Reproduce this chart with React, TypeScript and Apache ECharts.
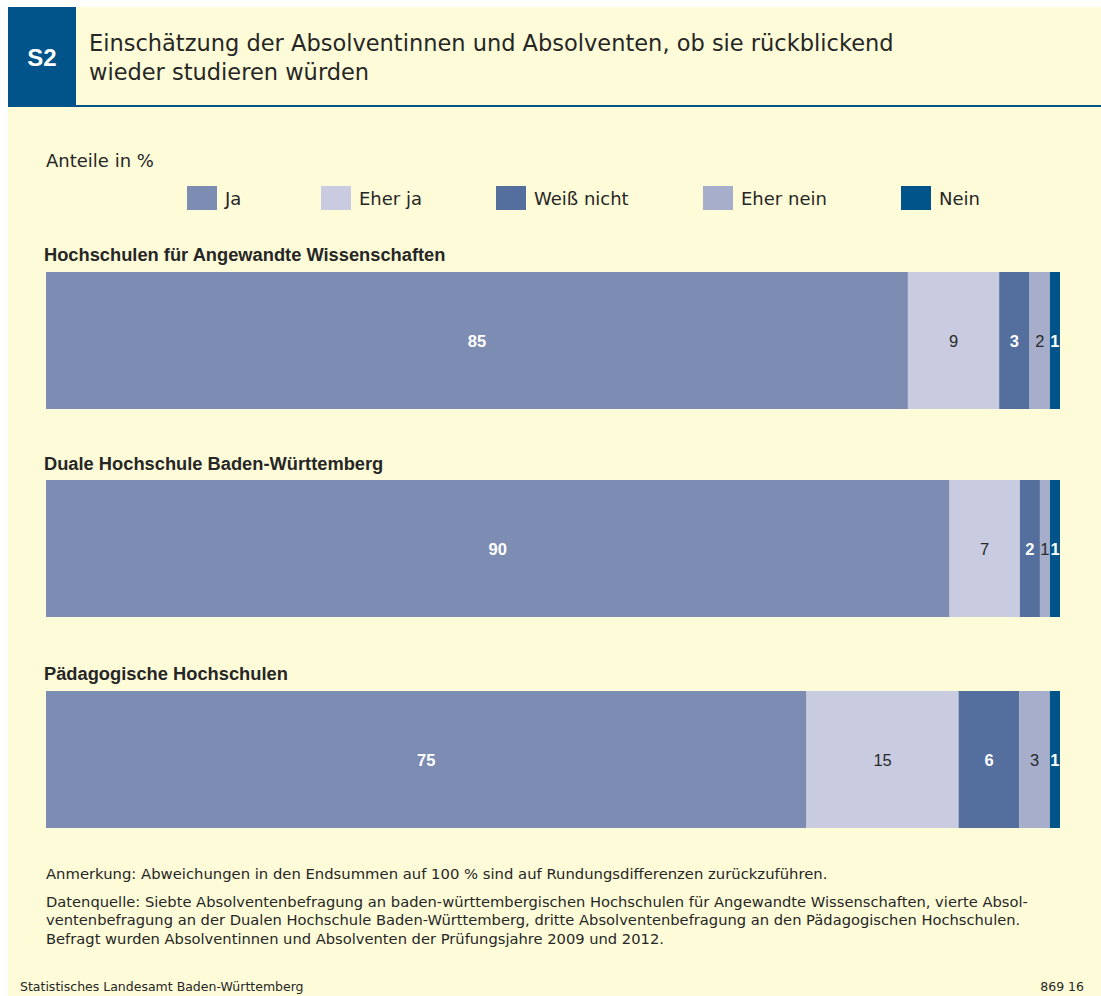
import React, { useEffect, useRef } from "react";
import * as echarts from "echarts";

const categories = ["Ja", "Eher ja", "Weiß nicht", "Eher nein", "Nein"];
const colors = ["#7d8cb3", "#c9cce0", "#546f9e", "#a6aecb", "#00548a"];
const labelColors = ["#ffffff", "#2a2a2a", "#ffffff", "#2a2a2a", "#ffffff"];
const labelWeights = ["bold", "normal", "bold", "normal", "bold"];
const legendLefts = [187, 321, 496, 703, 901];

const groups = [
  "Hochschulen für Angewandte Wissenschaften",
  "Duale Hochschule Baden-Württemberg",
  "Pädagogische Hochschulen",
];
const valuesHAW = [85, 9, 3, 2, 1];
const valuesDHBW = [90, 7, 2, 1, 1];
const valuesPH = [75, 15, 6, 3, 1];
const rows = [valuesHAW, valuesDHBW, valuesPH];

const FONT = "'Liberation Sans', Arial, Helvetica, sans-serif";
const WIDE = "'DejaVu Sans', 'Liberation Sans', sans-serif";
const TEXT = "#262626";

export default function App() {
  const ref = useRef<HTMLDivElement>(null);
  useEffect(() => {
    document.body.style.margin = "0";
    const chart = echarts.init(ref.current!, null, { renderer: "svg" });
    const gridTops = [272, 480, 691];
    const gridH = 137;
    const grids = gridTops.map((t) => ({ left: 46, width: 1014, top: t, height: gridH }));
    const xAxes = rows.map((r, i) => ({
      type: "value",
      gridIndex: i,
      min: 0,
      max: r.reduce((a, b) => a + b, 0),
      show: false,
    }));
    const yAxes = rows.map((_, i) => ({
      type: "category",
      gridIndex: i,
      data: [groups[i]],
      show: false,
    }));
    const series: any[] = [];
    rows.forEach((r, gi) => {
      categories.forEach((c, ci) => {
        series.push({
          type: "bar",
          name: c,
          stack: "s" + gi,
          xAxisIndex: gi,
          yAxisIndex: gi,
          data: [r[ci]],
          barWidth: "100%",
          itemStyle: { color: colors[ci] },
          label: {
            show: true,
            position: "inside",
            color: labelColors[ci],
            fontWeight: labelWeights[ci],
            fontSize: 16.5,
            fontFamily: FONT,
          },
        });
      });
    });

    const txt = (x: number, y: number, text: string, fontSize: number, extra: any = {}) => ({
      type: "text",
      x,
      y,
      style: {
        text,
        fontSize,
        fontFamily: WIDE,
        fill: TEXT,
        textVerticalAlign: "middle",
        ...extra,
      },
    });

    const graphic: any[] = [
      { type: "rect", shape: { x: 8, y: 7, width: 1093, height: 989 }, style: { fill: "#fefcd8" }, z: -10 },
      { type: "rect", shape: { x: 8, y: 7, width: 68, height: 98 }, style: { fill: "#00548a" } },
      { type: "rect", shape: { x: 8, y: 105, width: 1093, height: 2 }, style: { fill: "#00548a" } },
      txt(42, 57, "S2", 24, { fill: "#ffffff", fontWeight: "bold", textAlign: "center", fontFamily: FONT }),
      txt(89, 43, "Einschätzung der Absolventinnen und Absolventen, ob sie rückblickend", 22.5),
      txt(89, 72, "wieder studieren würden", 22.5),
      txt(46, 160, "Anteile in %", 18),
      txt(44, 254, groups[0], 18.3, { fontWeight: "bold", fontFamily: FONT }),
      txt(44, 463, groups[1], 18.3, { fontWeight: "bold", fontFamily: FONT }),
      txt(44, 673, groups[2], 18.3, { fontWeight: "bold", fontFamily: FONT }),
      txt(46, 873, "Anmerkung: Abweichungen in den Endsummen auf 100 % sind auf Rundungsdifferenzen zurückzuführen.", 14.8),
      txt(46, 901, "Datenquelle: Siebte Absolventenbefragung an baden-württembergischen Hochschulen für Angewandte Wissenschaften, vierte Absol-", 14.7),
      txt(46, 919, "ventenbefragung an der Dualen Hochschule Baden-Württemberg, dritte Absolventenbefragung an den Pädagogischen Hochschulen.", 14.7),
      txt(46, 938, "Befragt wurden Absolventinnen und Absolventen der Prüfungsjahre 2009 und 2012.", 14.7),
      txt(20, 986, "Statistisches Landesamt Baden-Württemberg", 12.5),
      txt(1084, 986, "869 16", 12.5, { textAlign: "right" }),
    ];

    const legends = categories.map((c, i) => ({
      data: [c],
      left: legendLefts[i],
      top: 186,
      padding: 0,
      icon: "rect",
      itemWidth: 30,
      itemHeight: 24,
      selectedMode: false,
      textStyle: { fontSize: 18, fontFamily: WIDE, color: TEXT, padding: [0, 0, 0, 3] },
    }));

    chart.setOption({
      animation: false,
      backgroundColor: "#ffffff",
      legend: legends,
      grid: grids,
      xAxis: xAxes,
      yAxis: yAxes,
      series,
      graphic,
    });
    return () => chart.dispose();
  }, []);
  return <div ref={ref} style={{ width: 1101, height: 996, position: "absolute", left: 0, top: 0 }} />;
}
